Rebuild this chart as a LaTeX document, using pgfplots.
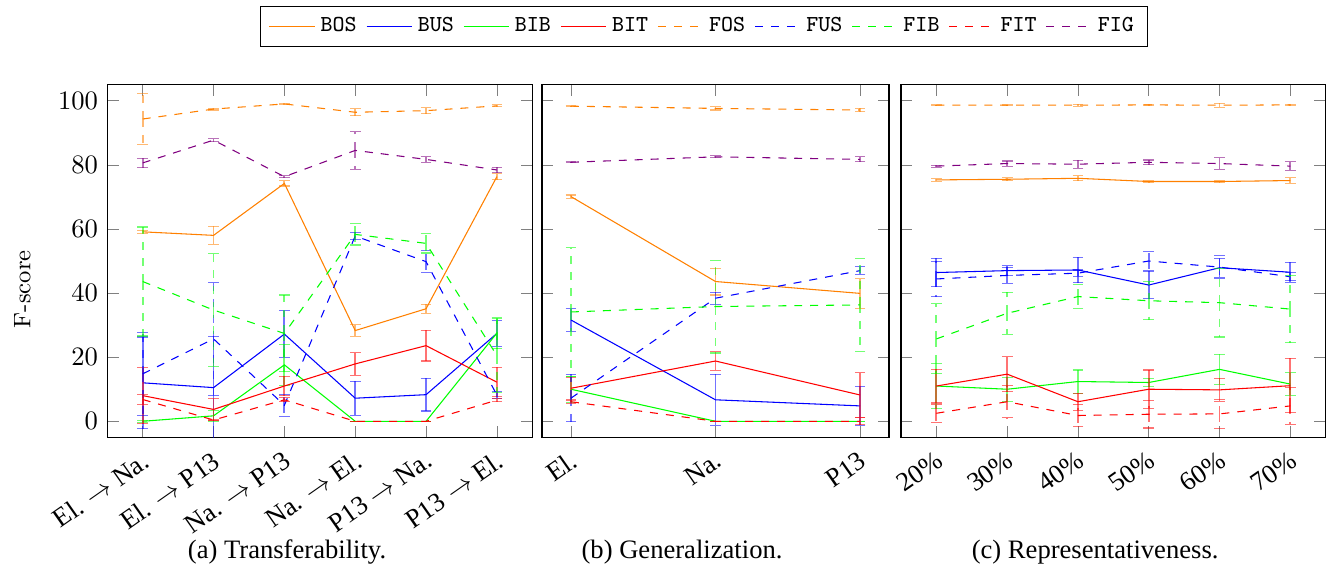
\documentclass[border=0pt]{standalone}
\usepackage{fontspec}
\usepackage{pgfplots}
\pgfplotsset{compat=1.18}
\newfontfamily\timesfont{Liberation Serif}

\pgfplotsset{
  eb/.style={error bars/.cd, y dir=both, y explicit,
    error bar style={line width=0.7pt, opacity=0.55}},
  panel/.style={
    scale only axis, anchor=south west,
    height=132.56pt,
    ymin=-5, ymax=105, ytick={0,20,...,100},
    x tick label style={rotate=35, anchor=north east, font=\timesfont},
  },
}

\begin{document}
\begin{tikzpicture}
\path[use as bounding box] (0,0) rectangle (500pt,212.03pt);

% (a) transferability
\begin{axis}[panel, at={(40.34pt,47.63pt)}, width=159.77pt,
  xmin=-0.5, xmax=5.5, xtick={0,...,5},
  xticklabels={El. $\rightarrow$ Na., El. $\rightarrow$ P13, Na. $\rightarrow$ P13,
    Na. $\rightarrow$ El., P13 $\rightarrow$ Na., P13 $\rightarrow$ El.},
  ylabel={F-score},
  ylabel style={at={(axis description cs:-0.2,0.42)}, anchor=center,
    font=\fontsize{9}{11}\selectfont},
  legend columns=9,
  legend style={at={(1.404,1.165)}, anchor=center, draw=black,
    font=\fontsize{8.6}{10}\ttfamily,
    /tikz/every even column/.append style={column sep=1.5pt}},
]
\addplot[orange, eb] coordinates {(0,59.1) +- (0,0.5) (1,58.0) +- (0,2.8) (2,74.2) +- (0,0.8)
  (3,28.3) +- (0,1.8) (4,35.1) +- (0,1.4) (5,76.3) +- (0,0.9)};
\addplot[blue, eb] coordinates {(0,12.0) +- (0,14.3) (1,10.5) +- (0,16.0) (2,27.2) +- (0,7.3)
  (3,7.2) +- (0,5.3) (4,8.3) +- (0,5.1) (5,27.4) +- (0,4.0)};
\addplot[green, eb] coordinates {(0,0.0) +- (0,0.3) (1,1.7) +- (0,1.7) (2,17.6) +- (0,6.4)
  (3,0.0) +- (0,0.0) (4,0.0) +- (0,0.0) (5,27.5) +- (0,4.8)};
\addplot[red, eb] coordinates {(0,8.0) +- (0,8.7) (1,3.7) +- (0,3.4) (2,11.0) +- (0,3.0)
  (3,17.9) +- (0,3.5) (4,23.6) +- (0,4.8) (5,12.2) +- (0,4.6)};
\addplot[orange, dashed, eb] coordinates {(0,94.3) +- (0,8.1) (1,97.4) +- (0,0.3) (2,99.0) +- (0,0.2)
  (3,96.4) +- (0,1.1) (4,96.9) +- (0,0.9) (5,98.4) +- (0,0.3)};
\addplot[blue, dashed, eb] coordinates {(0,14.8) +- (0,13.0) (1,25.7) +- (0,17.6) (2,5.0) +- (0,3.5)
  (3,57.8) +- (0,1.2) (4,49.8) +- (0,3.5) (5,8.2) +- (0,1.0)};
\addplot[green, dashed, eb] coordinates {(0,43.6) +- (0,17.0) (1,34.7) +- (0,17.5) (2,27.4) +- (0,12.0)
  (3,58.3) +- (0,3.3) (4,55.5) +- (0,3.0) (5,20.5) +- (0,11.5)};
\addplot[red, dashed, eb] coordinates {(0,6.8) +- (0,1.5) (1,0.4) +- (0,0.3) (2,6.7) +- (0,0.6)
  (3,0.0) +- (0,0.0) (4,0.0) +- (0,0.0) (5,6.6) +- (0,0.5)};
\addplot[violet, dashed, eb] coordinates {(0,80.6) +- (0,1.5) (1,87.7) +- (0,0.5) (2,76.3) +- (0,0.3)
  (3,84.5) +- (0,5.9) (4,81.7) +- (0,0.9) (5,78.4) +- (0,0.8)};
\legend{BOS,BUS,BIB,BIT,FOS,FUS,FIB,FIT,FIG}
\end{axis}

% (b) generalization
\begin{axis}[panel, at={(203.76pt,47.63pt)}, width=130.45pt,
  xmin=-0.2, xmax=2.2, xtick={0,1,2}, xticklabels={El., Na., P13},
  yticklabels={},
]
\addplot[orange, eb] coordinates {(0,70.1) +- (0,0.5) (1,43.6) +- (0,4.2) (2,39.9) +- (0,4.6)};
\addplot[blue, eb] coordinates {(0,31.6) +- (0,3.5) (1,6.7) +- (0,8.0) (2,4.8) +- (0,6.1)};
\addplot[green, eb] coordinates {(0,10.0) +- (0,4.0) (1,0.0) +- (0,0.0) (2,0.0) +- (0,0.0)};
\addplot[red, eb] coordinates {(0,10.3) +- (0,3.5) (1,18.8) +- (0,2.9) (2,8.2) +- (0,6.9)};
\addplot[orange, dashed, eb] coordinates {(0,98.3) +- (0,0.2) (1,97.6) +- (0,0.5) (2,97.1) +- (0,0.5)};
\addplot[blue, dashed, eb] coordinates {(0,7.2) +- (0,7.4) (1,38.4) +- (0,1.9) (2,47.0) +- (0,1.2)};
\addplot[green, dashed, eb] coordinates {(0,34.1) +- (0,20.1) (1,35.8) +- (0,14.5) (2,36.3) +- (0,14.4)};
\addplot[red, dashed, eb] coordinates {(0,6.1) +- (0,0.5) (1,0.0) +- (0,0.0) (2,0.0) +- (0,1.1)};
\addplot[violet, dashed, eb] coordinates {(0,80.8) +- (0,0.2) (1,82.5) +- (0,0.3) (2,81.7) +- (0,0.8)};
\end{axis}

% (c) representativeness
\begin{axis}[panel, at={(338.72pt,47.63pt)}, width=159.66pt,
  xmin=-0.5, xmax=5.5, xtick={0,...,5},
  xticklabels={20\%,30\%,40\%,50\%,60\%,70\%},
  yticklabels={},
]
\addplot[orange, eb] coordinates {(0,75.3) +- (0,0.4) (1,75.5) +- (0,0.5) (2,75.8) +- (0,0.8)
  (3,74.8) +- (0,0.2) (4,74.8) +- (0,0.3) (5,75.1) +- (0,0.9)};
\addplot[blue, eb] coordinates {(0,46.4) +- (0,4.4) (1,47.0) +- (0,1.5) (2,47.2) +- (0,4.0)
  (3,42.5) +- (0,4.3) (4,47.9) +- (0,3.0) (5,46.5) +- (0,3.1)};
\addplot[green, eb] coordinates {(0,11.0) +- (0,7.1) (1,10.0) +- (0,3.7) (2,12.4) +- (0,3.6)
  (3,12.1) +- (0,1.3) (4,16.2) +- (0,4.7) (5,11.6) +- (0,3.5)};
\addplot[red, eb] coordinates {(0,11.0) +- (0,5.2) (1,14.7) +- (0,5.5) (2,6.1) +- (0,2.6)
  (3,10.0) +- (0,6.0) (4,9.8) +- (0,3.6) (5,11.1) +- (0,8.5)};
\addplot[orange, dashed, eb] coordinates {(0,98.6) +- (0,0.2) (1,98.6) +- (0,0.2) (2,98.6) +- (0,0.3)
  (3,98.7) +- (0,0.2) (4,98.6) +- (0,0.6) (5,98.7) +- (0,0.2)};
\addplot[blue, dashed, eb] coordinates {(0,44.4) +- (0,5.5) (1,45.5) +- (0,2.6) (2,46.2) +- (0,1.0)
  (3,50.0) +- (0,2.9) (4,48.1) +- (0,3.6) (5,45.1) +- (0,1.3)};
\addplot[green, dashed, eb] coordinates {(0,25.7) +- (0,10.9) (1,33.7) +- (0,6.5) (2,38.9) +- (0,3.8)
  (3,37.6) +- (0,5.9) (4,37.0) +- (0,10.7) (5,35.0) +- (0,10.5)};
\addplot[red, dashed, eb] coordinates {(0,2.5) +- (0,2.9) (1,6.1) +- (0,5.0) (2,1.8) +- (0,3.5)
  (3,2.2) +- (0,4.3) (4,2.3) +- (0,4.5) (5,4.8) +- (0,5.8)};
\addplot[violet, dashed, eb] coordinates {(0,79.6) +- (0,0.3) (1,80.4) +- (0,0.8) (2,80.2) +- (0,1.2)
  (3,80.8) +- (0,0.7) (4,80.4) +- (0,1.8) (5,79.6) +- (0,1.3)};
\end{axis}

\node[anchor=base, font=\timesfont] at (107.9pt,2.14pt) {(a) Transferability.};
\node[anchor=base, font=\timesfont] at (256.4pt,2.14pt) {(b) Generalization.};
\node[anchor=base, font=\timesfont] at (411.7pt,2.14pt) {(c) Representativeness.};
\end{tikzpicture}
\end{document}
